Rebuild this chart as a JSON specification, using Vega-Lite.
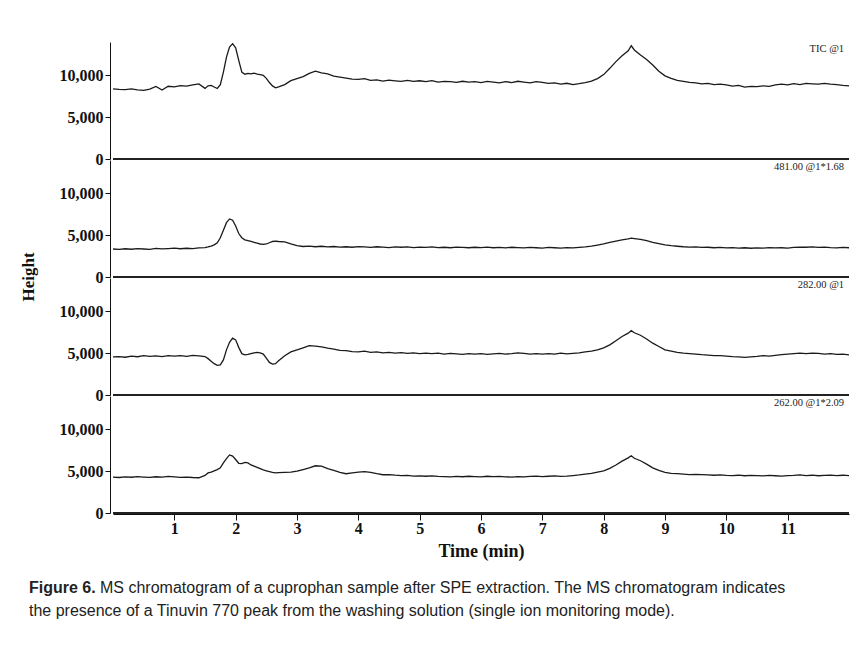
{
  "$schema": "https://vega.github.io/schema/vega-lite/v6.json",
  "padding": {"left": 20, "top": 41, "right": 0, "bottom": 0},
  "background": "white",
  "spacing": 16,
  "config": {
    "view": {"stroke": null},
    "axis": {"labelFont": "Liberation Serif", "labelFontWeight": "bold", "labelFontSize": 16, "labelColor": "#111", "domainColor": "#111", "tickColor": "#111", "titleFont": "Liberation Serif", "titleFontWeight": "bold", "titleFontSize": 18, "titleColor": "#111", "grid": false}
  },
  "vconcat": [
    {
      "data": {"values": [
        {"t":0,"a":8400,"b":3350,"c":4550,"d":4300},
        {"t":0.1,"a":8340,"b":3300,"c":4600,"d":4250},
        {"t":0.2,"a":8310,"b":3380,"c":4520,"d":4320},
        {"t":0.3,"a":8380,"b":3320,"c":4650,"d":4280},
        {"t":0.4,"a":8270,"b":3400,"c":4580,"d":4350},
        {"t":0.5,"a":8220,"b":3350,"c":4700,"d":4300},
        {"t":0.6,"a":8360,"b":3300,"c":4620,"d":4260},
        {"t":0.7,"a":8680,"b":3420,"c":4680,"d":4340},
        {"t":0.8,"a":8250,"b":3360,"c":4600,"d":4300},
        {"t":0.9,"a":8700,"b":3400,"c":4720,"d":4380},
        {"t":1.0,"a":8620,"b":3450,"c":4650,"d":4320},
        {"t":1.1,"a":8780,"b":3380,"c":4700,"d":4270},
        {"t":1.2,"a":8720,"b":3440,"c":4620,"d":4300},
        {"t":1.3,"a":8860,"b":3400,"c":4750,"d":4250},
        {"t":1.4,"a":8980,"b":3480,"c":4680,"d":4220},
        {"t":1.5,"a":8450,"b":3520,"c":4600,"d":4500},
        {"t":1.55,"a":8760,"b":3600,"c":4350,"d":4800},
        {"t":1.6,"a":8800,"b":3700,"c":4050,"d":4900},
        {"t":1.65,"a":8620,"b":3850,"c":3750,"d":5050},
        {"t":1.7,"a":8440,"b":4100,"c":3550,"d":5200},
        {"t":1.75,"a":8900,"b":4700,"c":3600,"d":5400},
        {"t":1.8,"a":10400,"b":5600,"c":4200,"d":6000},
        {"t":1.85,"a":12200,"b":6500,"c":5400,"d":6500},
        {"t":1.9,"a":13400,"b":6950,"c":6300,"d":6950},
        {"t":1.95,"a":13800,"b":6800,"c":6800,"d":6800},
        {"t":2.0,"a":13300,"b":6100,"c":6600,"d":6400},
        {"t":2.05,"a":11800,"b":5200,"c":5700,"d":5950},
        {"t":2.1,"a":10400,"b":4700,"c":4950,"d":5900},
        {"t":2.15,"a":10150,"b":4450,"c":4800,"d":6050},
        {"t":2.2,"a":10250,"b":4350,"c":4850,"d":6000},
        {"t":2.25,"a":10180,"b":4250,"c":4950,"d":5750},
        {"t":2.3,"a":10270,"b":4150,"c":5050,"d":5600},
        {"t":2.35,"a":10150,"b":4050,"c":5100,"d":5450},
        {"t":2.4,"a":10100,"b":3950,"c":5050,"d":5300},
        {"t":2.45,"a":10020,"b":3900,"c":4900,"d":5150},
        {"t":2.5,"a":9650,"b":3950,"c":4400,"d":5050},
        {"t":2.55,"a":9150,"b":4100,"c":3900,"d":4950},
        {"t":2.6,"a":8750,"b":4250,"c":3700,"d":4850},
        {"t":2.65,"a":8520,"b":4300,"c":3750,"d":4800},
        {"t":2.7,"a":8620,"b":4250,"c":4100,"d":4820},
        {"t":2.8,"a":8900,"b":4200,"c":4700,"d":4850},
        {"t":2.9,"a":9380,"b":3950,"c":5150,"d":4880},
        {"t":3.0,"a":9620,"b":3750,"c":5400,"d":5000},
        {"t":3.1,"a":9850,"b":3650,"c":5650,"d":5200},
        {"t":3.2,"a":10250,"b":3700,"c":5900,"d":5400},
        {"t":3.3,"a":10520,"b":3620,"c":5850,"d":5650},
        {"t":3.4,"a":10300,"b":3680,"c":5750,"d":5600},
        {"t":3.5,"a":10180,"b":3600,"c":5600,"d":5300},
        {"t":3.6,"a":9920,"b":3650,"c":5500,"d":5100},
        {"t":3.7,"a":9800,"b":3580,"c":5350,"d":4850},
        {"t":3.8,"a":9680,"b":3620,"c":5300,"d":4700},
        {"t":3.9,"a":9560,"b":3560,"c":5200,"d":4800},
        {"t":4.0,"a":9520,"b":3640,"c":5150,"d":4880},
        {"t":4.1,"a":9620,"b":3600,"c":5250,"d":4960},
        {"t":4.2,"a":9420,"b":3540,"c":5100,"d":4850},
        {"t":4.3,"a":9460,"b":3620,"c":5150,"d":4700},
        {"t":4.4,"a":9310,"b":3580,"c":5050,"d":4580},
        {"t":4.5,"a":9430,"b":3520,"c":5100,"d":4600},
        {"t":4.6,"a":9350,"b":3600,"c":5000,"d":4520},
        {"t":4.7,"a":9280,"b":3560,"c":5080,"d":4480},
        {"t":4.8,"a":9410,"b":3600,"c":4980,"d":4500},
        {"t":4.9,"a":9300,"b":3520,"c":5050,"d":4420},
        {"t":5.0,"a":9360,"b":3580,"c":4950,"d":4450},
        {"t":5.1,"a":9250,"b":3540,"c":5020,"d":4400},
        {"t":5.2,"a":9380,"b":3600,"c":4950,"d":4440},
        {"t":5.3,"a":9210,"b":3520,"c":5000,"d":4380},
        {"t":5.4,"a":9300,"b":3560,"c":4900,"d":4350},
        {"t":5.5,"a":9260,"b":3500,"c":4980,"d":4320},
        {"t":5.6,"a":9160,"b":3580,"c":4920,"d":4380},
        {"t":5.7,"a":9300,"b":3540,"c":4860,"d":4340},
        {"t":5.8,"a":9200,"b":3500,"c":4950,"d":4400},
        {"t":5.9,"a":9260,"b":3560,"c":4880,"d":4360},
        {"t":6.0,"a":9150,"b":3520,"c":4950,"d":4330},
        {"t":6.1,"a":9280,"b":3580,"c":4870,"d":4400},
        {"t":6.2,"a":9200,"b":3500,"c":4920,"d":4350},
        {"t":6.3,"a":9110,"b":3540,"c":4980,"d":4380},
        {"t":6.4,"a":9260,"b":3480,"c":4900,"d":4320},
        {"t":6.5,"a":9150,"b":3560,"c":4950,"d":4300},
        {"t":6.6,"a":9300,"b":3520,"c":5050,"d":4360},
        {"t":6.7,"a":9200,"b":3480,"c":4980,"d":4330},
        {"t":6.8,"a":9100,"b":3550,"c":4900,"d":4380},
        {"t":6.9,"a":9250,"b":3500,"c":4960,"d":4420},
        {"t":7.0,"a":9160,"b":3460,"c":4880,"d":4360},
        {"t":7.1,"a":9060,"b":3540,"c":4950,"d":4400},
        {"t":7.2,"a":9110,"b":3500,"c":4900,"d":4450},
        {"t":7.3,"a":8950,"b":3460,"c":5000,"d":4380},
        {"t":7.4,"a":9060,"b":3520,"c":4920,"d":4420},
        {"t":7.5,"a":8900,"b":3480,"c":4980,"d":4480},
        {"t":7.6,"a":9010,"b":3540,"c":5050,"d":4550},
        {"t":7.7,"a":9150,"b":3600,"c":5150,"d":4650},
        {"t":7.8,"a":9320,"b":3700,"c":5250,"d":4750},
        {"t":7.9,"a":9620,"b":3820,"c":5400,"d":4900},
        {"t":8.0,"a":10100,"b":3950,"c":5650,"d":5050},
        {"t":8.1,"a":10850,"b":4150,"c":6000,"d":5350},
        {"t":8.2,"a":11650,"b":4300,"c":6500,"d":5750},
        {"t":8.3,"a":12350,"b":4450,"c":7000,"d":6200},
        {"t":8.4,"a":12950,"b":4550,"c":7400,"d":6600},
        {"t":8.45,"a":13550,"b":4650,"c":7700,"d":6850},
        {"t":8.5,"a":13050,"b":4600,"c":7450,"d":6550},
        {"t":8.6,"a":12450,"b":4500,"c":7150,"d":6250},
        {"t":8.7,"a":11900,"b":4350,"c":6700,"d":5850},
        {"t":8.8,"a":11250,"b":4150,"c":6200,"d":5400},
        {"t":8.9,"a":10500,"b":4000,"c":5800,"d":5100},
        {"t":9.0,"a":9950,"b":3850,"c":5400,"d":4850},
        {"t":9.1,"a":9650,"b":3750,"c":5250,"d":4750},
        {"t":9.2,"a":9420,"b":3680,"c":5100,"d":4700},
        {"t":9.3,"a":9300,"b":3620,"c":5000,"d":4650},
        {"t":9.4,"a":9160,"b":3580,"c":4950,"d":4600},
        {"t":9.5,"a":9100,"b":3600,"c":4880,"d":4620},
        {"t":9.6,"a":9000,"b":3540,"c":4820,"d":4580},
        {"t":9.7,"a":9060,"b":3560,"c":4780,"d":4550},
        {"t":9.8,"a":8900,"b":3500,"c":4700,"d":4520},
        {"t":9.9,"a":8960,"b":3540,"c":4720,"d":4560},
        {"t":10.0,"a":8860,"b":3480,"c":4650,"d":4500},
        {"t":10.1,"a":8720,"b":3520,"c":4580,"d":4480},
        {"t":10.2,"a":8800,"b":3460,"c":4550,"d":4520},
        {"t":10.3,"a":8610,"b":3500,"c":4500,"d":4460},
        {"t":10.4,"a":8700,"b":3440,"c":4560,"d":4500},
        {"t":10.5,"a":8660,"b":3480,"c":4620,"d":4480},
        {"t":10.6,"a":8760,"b":3460,"c":4700,"d":4440},
        {"t":10.7,"a":8700,"b":3520,"c":4650,"d":4500},
        {"t":10.8,"a":8860,"b":3480,"c":4750,"d":4460},
        {"t":10.9,"a":8960,"b":3500,"c":4820,"d":4420},
        {"t":11.0,"a":8860,"b":3460,"c":4880,"d":4470},
        {"t":11.1,"a":9010,"b":3540,"c":4950,"d":4500},
        {"t":11.2,"a":8910,"b":3580,"c":5000,"d":4560},
        {"t":11.3,"a":9060,"b":3560,"c":4950,"d":4480},
        {"t":11.4,"a":9000,"b":3600,"c":5020,"d":4520},
        {"t":11.5,"a":8950,"b":3540,"c":4980,"d":4460},
        {"t":11.6,"a":9060,"b":3580,"c":4900,"d":4500},
        {"t":11.7,"a":8960,"b":3520,"c":4950,"d":4540},
        {"t":11.8,"a":8900,"b":3480,"c":4850,"d":4480},
        {"t":11.9,"a":8820,"b":3540,"c":4880,"d":4520},
        {"t":12.0,"a":8760,"b":3500,"c":4800,"d":4460}
      ]},
      "transform": [
        {"fold": ["a", "b", "c", "d"], "as": ["s", "v"]},
        {"lookup": "s", "from": {"data": {"values": [
          {"s": "a", "label": "TIC @1"},
          {"s": "b", "label": "481.00 @1*1.68"},
          {"s": "c", "label": "282.00 @1"},
          {"s": "d", "label": "262.00 @1*2.09"}
        ]}, "key": "s", "fields": ["label"]}}
      ],
      "facet": {
        "row": {
          "field": "s", "type": "nominal",
          "header": {"title": "Height", "labels": false, "titleFont": "Liberation Serif", "titleFontWeight": "bold", "titleFontSize": 17, "titleColor": "#111", "titlePadding": 11}
        }
      },
      "spacing": 0,
      "spec": {
        "width": 736,
        "height": 117,
        "layer": [
          {
            "mark": {"type": "line", "color": "#1a1a1a", "strokeWidth": 1.3},
            "encoding": {
              "x": {"field": "t", "type": "quantitative", "scale": {"domain": [0, 12], "nice": false, "zero": false},
                    "axis": {"values": [1, 2, 3, 4, 5, 6, 7, 8, 9, 10, 11], "format": "d", "title": "Time (min)", "tickSize": 6, "labelPadding": 0, "titlePadding": 6, "labelFlush": false}},
              "y": {"field": "v", "type": "quantitative", "scale": {"domain": [0, 14000], "nice": false},
                    "axis": {"values": [0, 5000, 10000], "format": ",d", "title": null, "tickSize": 5, "labelPadding": 2}}
            }
          },
          {
            "mark": {"type": "rule", "color": "#222", "strokeWidth": 1.2},
            "encoding": {"y": {"datum": 0, "type": "quantitative"}}
          },
          {
            "transform": [
              {"aggregate": [{"op": "count", "as": "n"}], "groupby": ["s", "label"]}
            ],
            "mark": {"type": "text", "align": "right", "baseline": "middle", "font": "Liberation Serif", "fontSize": 10.5, "color": "#222"},
            "encoding": {
              "x": {"datum": 11.92, "type": "quantitative"},
              "y": {"datum": 13200, "type": "quantitative"},
              "text": {"field": "label"}
            }
          }
        ]
      }
    },
    {
      "width": 736,
      "height": 46,
      "data": {"values": [
        {"ln": 1, "k": "b", "txt": "Figure 6."},
        {"ln": 1, "k": "r", "txt": "MS chromatogram of a cuprophan sample after SPE extraction. The MS chromatogram indicates"},
        {"ln": 2, "k": "r2", "txt": "the presence of a Tinuvin 770 peak from the washing solution (single ion monitoring mode)."}
      ]},
      "encoding": {
        "y": {"field": "ln", "type": "ordinal", "axis": null},
        "x": {"datum": 0, "type": "quantitative", "scale": {"domain": [0, 1]}, "axis": null},
        "text": {"field": "txt"}
      },
      "layer": [
        {"transform": [{"filter": "datum.k == 'b'"}], "mark": {"type": "text", "align": "left", "baseline": "middle", "font": "Liberation Sans", "fontSize": 16, "fontWeight": "bold", "color": "#222", "dx": -84}},
        {"transform": [{"filter": "datum.k == 'r'"}], "mark": {"type": "text", "align": "left", "baseline": "middle", "font": "Liberation Sans", "fontSize": 16, "color": "#222", "dx": -13}},
        {"transform": [{"filter": "datum.k == 'r2'"}], "mark": {"type": "text", "align": "left", "baseline": "middle", "font": "Liberation Sans", "fontSize": 16, "color": "#222", "dx": -84}}
      ]
    }
  ]
}
